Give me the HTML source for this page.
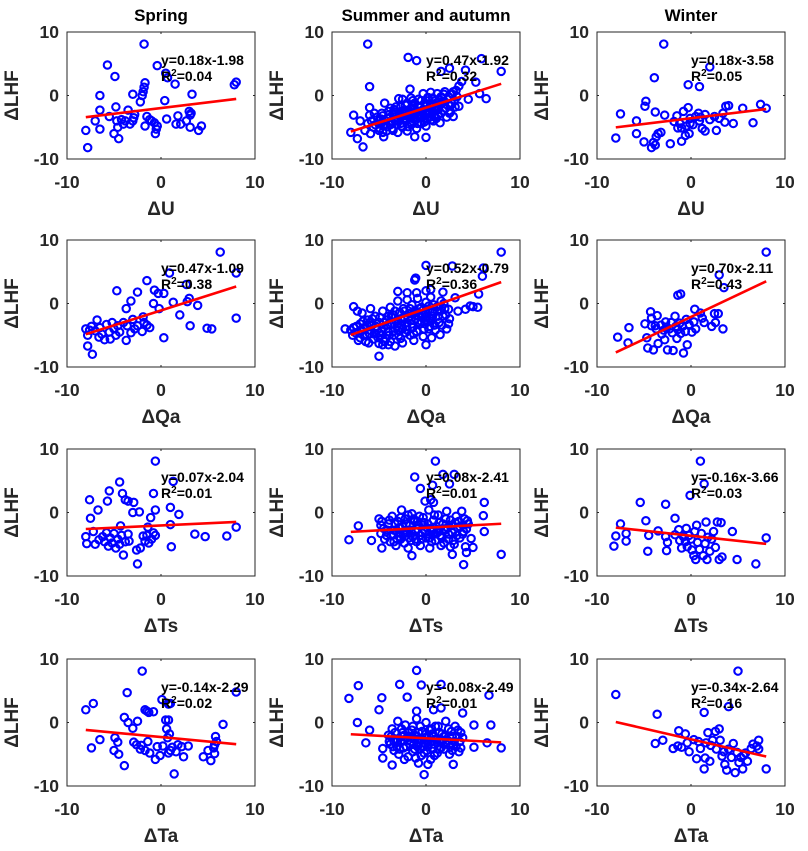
<!DOCTYPE html>
<html><head><meta charset="utf-8"><style>
html,body{margin:0;padding:0;background:#fff;}
svg{display:block;font-family:"Liberation Sans",Arial,sans-serif;}
</style></head><body>
<svg id="fig" width="808" height="851" viewBox="0 0 808 851"></svg>
<script>
// ---- data ----
const seasons=["Spring","Summer and autumn","Winter"];
const variables=["U","Qa","Ts","Ta"];
const slopes=[[0.18,0.47,0.18],[0.47,0.52,0.70],[0.07,0.08,-0.16],[-0.14,-0.08,-0.34]];
const intercepts=[[-1.98,-1.92,-3.58],[-1.09,-0.79,-2.11],[-2.04,-2.41,-3.66],[-2.29,-2.49,-2.64]];
const r2Labels=[["0.04","0.32","0.05"],["0.38","0.36","0.43"],["0.01","0.01","0.03"],["0.02","0.01","0.16"]];
const yTicks=[-10,0,10];
const xTicks=[-10,0,10];

const springU=[[-8,-5.5],[-7.8,-8.2],[-7,-4],[-6.5,0],[-6.5,-2.3],[-6.5,-5.3],[-5.7,4.8],[-5.5,-3.3],[-5,-6],[-4.9,3],[-4.8,-1.8],[-4.7,-4],[-4.6,-5],[-4.5,-6.8],[-4.2,-3.8],[-4,-4.5],[-3.8,-4],[-3.5,-2.3],[-3.3,-4.5],[-3,0.2],[-2.9,-3.5],[-2.8,-3],[-3,-4],[-2.2,-1],[-2,0],[-1.9,0.6],[-1.8,1.3],[-1.7,2],[-1.8,8.1],[-1.7,-4.8],[-1.5,-3.3],[-1.2,-3.8],[-1,-4],[-0.7,-4.3],[-0.6,-6],[-0.5,-5.3],[-0.4,-4.8],[-0.4,4.7],[0.4,-0.8],[0.5,3.5],[0.7,2.8],[0.6,-3.7],[1.5,1.8],[1.6,-4.5],[1.8,-3.2],[2.1,-4.5],[2.7,-4],[3,-2.5],[3.1,-3.1],[3.1,-5],[3.3,0.2],[3.2,-2.8],[4,-5.5],[4.3,-4.8],[7.8,1.7],[8,2.1]];
const summerU=[[-6.2,8.1],[-1.9,6],[-1,5.5],[5.9,5.8],[4.2,4],[8,3.8],[1.6,3.8],[2.5,4.3],[3.8,2.2],[3.5,1.5],[5.3,2.1],[-6,1.4],[5.7,0.3],[6.4,-0.5],[-8,-5.8],[-7.7,-3.1],[-7,-4],[-7.3,-6.8],[-6.7,-8.1],[-6,-1.9],[-6,-3.1],[-5,-4.5],[-4.5,-6.5],[-1.2,-6.5],[0,-6.6],[2.9,-3.3],[2.6,-2.6],[1.5,-4.3],[4.5,-0.6],[3.5,-1.7],
[-5,-4],[-5,-5.5],[-4.6,-3.2],[-4.5,-4.8],[-4.2,-5.6],[-4,-3.5],[-4,-2.5],[-3.8,-4.6],[-3.6,-5.2],[-3.5,-3],[-3.3,-4],[-3.2,-1.8],[-3,-5.8],[-3,-3.5],[-2.8,-2.6],[-2.7,-4.4],[-2.5,-0.6],[-2.5,-5],[-2.4,-3.2],[-2.2,-1.5],[-2.1,-4],[-2,-2.5],[-2,-5.6],[-1.8,-3.4],[-1.7,1],[-1.6,-0.4],[-1.5,-2],[-1.5,-4.5],[-1.3,-3],[-1.2,-1.2],[-1.1,-3.8],[-1,-2.4],[-1,-5.2],[-0.8,-0.6],[-0.7,-3.2],[-0.6,-1.8],[-0.5,-4.4],[-0.4,-2.6],[-0.3,0.3],[-0.2,-3.6],[-0.1,-1.2],[0,-2.8],[0,-4.8],[0.2,-0.3],[0.3,-2],[0.4,-3.4],[0.5,0.5],[0.6,-1.4],[0.7,-2.6],[0.8,-4],[1,-0.8],[1,-2],[1.2,0.3],[1.3,-3],[1.5,-1.4],[1.6,-0.2],[1.8,-2.4],[2,0.6],[2,-1],[2.2,-3.4],[2.4,-0.2],[2.6,-1.6],[2.8,0.2],[3,-0.8],[3.2,0.8],[-3.8,-2],[-4.4,-1.2],[-2.9,-0.5],[-5.5,-2.8],[-5.6,-5],[-5.8,-4],[-4.8,-3.7],[-3.4,-2.2],[-2.3,-3.9],[-1.9,-4.9],[-0.9,-3.5],[0.1,-1.6],[0.9,-3.2],[1.1,-1.2],[-1.4,-0.8],
[-5.4,-4.6],[-5.2,-3.4],[-4.9,-5.2],[-4.7,-2.8],[-4.3,-4],[-4.1,-4.9],[-3.9,-3],[-3.7,-4.2],[-3.5,-5.5],[-3.3,-2.6],[-3.1,-4.6],[-2.9,-3.2],[-2.7,-1.8],[-2.6,-4.8],[-2.4,-2.4],[-2.2,-3.6],[-2,-1.2],[-1.9,-3],[-1.7,-4.2],[-1.6,-2],[-1.4,-3.6],[-1.3,-1.6],[-1.1,-2.8],[-0.9,-4.4],[-0.8,-1.8],[-0.6,-3],[-0.5,-0.8],[-0.3,-2.2],[-0.2,-4.2],[0,-1.4],[0.1,-3],[0.3,-0.8],[0.4,-2.6],[0.6,-3.8],[0.7,-0.4],[0.9,-2.2],[1.1,-3.6],[1.2,-1.6],[1.4,-0.6],[1.6,-2.8],[1.7,-1],[1.9,0.2],[2.1,-2],[2.3,-0.6],[2.5,-2.8],[2.7,-1.2],[2.9,0.6],[3.1,-1.8],[3.3,-0.2],[-4.6,-5.8],[-3.2,-3.8],[-2.3,-2.9],[-1.2,-2.2],[-0.4,-3.4],[0.5,-1.6],[1.3,-2.2],[-6.5,-5.5],[-6.2,-4.4],[-5.9,-6]];
const winterU=[[-2.9,8.1],[2,4.5],[-3.9,2.8],[-0.3,1.7],[0.9,1.4],[-8,-6.7],[-7.5,-2.9],[-5.8,-4],[-5.8,-6],[-5,-7.3],[-4.8,-0.9],[-4.9,-1.7],[-3.8,-2.6],[-4,-7.4],[-4.2,-8.2],[-3.7,-6.5],[-3.5,-6],[-3.8,-7.8],[-2.8,-3.1],[-3.2,-5.8],[-2.2,-7.6],[-1.8,-4.1],[-1.5,-3.2],[-1.4,-5.1],[-1,-5.1],[-1,-7.2],[-0.8,-2.5],[-0.6,-6.3],[-0.5,-4.8],[-0.3,-1.9],[-0.2,-6],[-0.1,-3.6],[0.2,-4.6],[0.5,-3.3],[0.8,-2.8],[1,-3.4],[1.2,-5.2],[1.5,-3],[1.5,-5.6],[2,-3.8],[2.5,-3.3],[2.7,-5.5],[3,-3.6],[3.4,-2.8],[3.6,-4.2],[3.7,-1.7],[4,-1.6],[4.5,-4.4],[5.5,-2],[6.6,-4.3],[7.4,-1.4],[8,-2],[-0.1,-4.4],[0.9,-4],[-1.2,-4.4]];
const springQa=[[6.3,8.1],[8,4.8],[0.9,4.8],[-1.5,3.6],[-4.7,2],[-2.5,1.8],[-0.7,2.1],[-0.3,1.6],[0.3,1.6],[-3.2,0.4],[2.7,3],[1.3,0.2],[2.8,0.3],[3,0.8],[-0.8,0],[-0.2,-0.8],[-3.7,-0.8],[3.9,-0.3],[2,-1.8],[8,-2.3],[3.1,-3.5],[4.9,-3.9],[5.4,-4],[0.3,-5.4],[-3.7,-5.8],[-7.3,-8],[-7.8,-6.7],[-8,-4],[-7.6,-4.2],[-7.8,-5],[-7,-4.3],[-6.8,-2.6],[-6.5,-3.8],[-6.3,-4.8],[-6,-5.7],[-5.8,-3.3],[-5.5,-4.5],[-5.2,-3],[-5,-4],[-4.8,-5],[-4.6,-3.5],[-4.4,-4.5],[-4,-3],[-3.6,-3.5],[-3.2,-4.6],[-3,-2.5],[-2.8,-4],[-2.5,-3.5],[-2,-4.4],[-1.9,-2.1],[-1.8,-3],[-1.5,-3.4],[-1.2,-3.8],[-7.4,-3.6],[-6.6,-5.3],[-5.4,-5.6]];
const summerQa=[[8,8.1],[0,6],[2.8,5.9],[-1.1,4],[-1.2,3.7],[0.5,2.2],[-3,1.9],[-2,1.7],[-1,1.7],[0,2],[1.8,1.8],[3.1,0.9],[5.6,1.5],[6,4.3],[6.1,5.6],[4.7,-0.4],[4.2,-0.9],[5,-0.5],[5.5,-0.6],[2.4,-0.9],[3.4,-1.2],[2.5,-2.4],[2.4,-3.2],[0.4,-2.3],[0.3,-4],[0,-6.5],[-5,-8.3],[-4.6,-6.5],[-8.6,-4],[-7.7,-0.5],[-7.3,-1.2],[-7.7,-3.8],[-8,-4.2],
[-7.5,-4.6],[-7,-3.2],[-7,-5.4],[-6.6,-4],[-6.4,-6],[-6.2,-2.6],[-6,-4.8],[-5.8,-3.5],[-5.6,-5.6],[-5.4,-2],[-5.2,-4.2],[-5,-6.3],[-5,-3],[-4.8,-5],[-4.6,-1.2],[-4.5,-3.8],[-4.3,-5.5],[-4.2,-2.6],[-4,-4.4],[-3.8,-0.6],[-3.8,-6],[-3.6,-3.2],[-3.5,-1.8],[-3.4,-5],[-3.2,-2.8],[-3,0.4],[-3,-4.2],[-2.8,-1.4],[-2.7,-5.5],[-2.6,-3.4],[-2.4,-0.8],[-2.3,-2.2],[-2.2,-4.6],[-2,-3],[-2,0.6],[-1.8,-1.6],[-1.7,-5],[-1.6,-2.6],[-1.5,-0.2],[-1.4,-3.8],[-1.2,-1.2],[-1.1,-2.4],[-1,-4.4],[-0.9,0.8],[-0.8,-2],[-0.6,-3.2],[-0.5,-0.6],[-0.4,-1.6],[-0.2,-4],[0,0.2],[0,-2.6],[0.2,-1],[0.4,-3.6],[0.5,1],[0.7,-2],[0.8,-0.2],[1,-4.2],[1.2,-1.2],[1.4,-3],[1.6,0.4],[1.8,-2],[2,-0.8],[2.2,-4],[-6.8,-1.5],[-5.9,-0.8],[-4,-6.5],[-3.3,-6.7],[-2.5,-6.2],[-1.3,-5.8],[0.6,-5.4],[1.5,-4.9],[-0.3,-5.2],
[-7.8,-5],[-7.4,-3.6],[-7.2,-5.8],[-6.9,-4.4],[-6.7,-2.8],[-6.5,-5],[-6.3,-3.4],[-6.1,-6.2],[-5.9,-4.2],[-5.7,-2.4],[-5.5,-4.8],[-5.3,-3.6],[-5.1,-5.4],[-4.9,-2.2],[-4.7,-4.4],[-4.5,-3],[-4.4,-6],[-4.1,-3.4],[-3.9,-5],[-3.7,-2],[-3.5,-4.4],[-3.3,-1.2],[-3.1,-3.6],[-2.9,-5],[-2.7,-2.4],[-2.5,-4],[-2.3,-1.2],[-2.1,-3.6],[-1.9,-2.2],[-1.7,-0.8],[-1.5,-3.2],[-1.3,-4.8],[-1.1,-1.8],[-0.9,-3],[-0.7,-0.8],[-0.5,-2.8],[-0.3,-1],[-0.1,-3.2],[0.1,-2],[0.3,-0.4],[0.5,-2.8],[0.7,-1.2],[0.9,-3.4],[1.1,-0.6],[1.3,-2],[1.5,-1.2],[1.7,-3.4],[1.9,0],[2.1,-1.8],[-6,-3],[-5,-4.6],[-4,-2],[-3,-3.2],[-2,-4.2],[-1,-1.4],[0,-1.6]];
const winterQa=[[8,8.1],[3,4.5],[3.5,2.5],[-1.4,1.3],[-1.1,1.5],[-7.8,-5.3],[-6.6,-3.8],[-6.7,-6.2],[-4.9,-3.2],[-4.7,-5.4],[-4.3,-1.3],[-4.2,-2.3],[-4.6,-7],[-4,-7.3],[-4.2,-3.5],[-3.6,-1.9],[-3.7,-4],[-3.5,-6.3],[-3.2,-3.4],[-3.1,-4.8],[-2.8,-5.7],[-2.6,-3.7],[-2.5,-7.3],[-2.3,-4],[-2.1,-3],[-2,-4.6],[-1.9,-7.4],[-1.7,-2],[-1.6,-3.6],[-1.5,-5.5],[-1.2,-3.1],[-1.1,-4.7],[-0.8,-7.8],[-0.6,-4.4],[-0.4,-6.5],[-0.2,-3.3],[0.3,-2.9],[0.4,-0.9],[0.5,-4],[1,-1.5],[1.2,-2.3],[1.4,-3],[2.5,-1.6],[2.9,-1.6],[2.6,-3],[3.4,-4],[2.2,-3.6],[-3.8,-3.5],[-2.9,-4.2],[-2.7,-2.9],[-1.4,-4.1],[-0.9,-3.6],[-0.5,-2.5],[0.1,-4.5]];
const springTs=[[-0.6,8.1],[1.3,4.9],[-4.4,4.8],[-5.5,3.4],[-4.1,3],[-0.8,3],[-3.8,2],[-3.5,1.8],[-7.6,2],[-5.7,1.8],[-2.9,1.6],[-6.7,0.4],[-2.3,0.1],[-3,0],[-0.6,0.4],[1,0.8],[1.9,-0.3],[-7.5,-0.9],[-1.1,-0.8],[1,-1.9],[-4.3,-2.1],[-1.4,-2.3],[8,-2.3],[3.6,-3.4],[4.7,-3.8],[7,-3.7],[-8,-3.8],[-7.9,-4.9],[-7.2,-3],[-7,-5],[-6.6,-4.3],[-6.2,-3.8],[-6,-4.6],[-5.8,-3.2],[-5.6,-5.3],[-5.4,-4],[-5.2,-4.8],[-5,-3.3],[-4.8,-5.6],[-4.6,-4.2],[-4.4,-5],[-4.2,-3.6],[-4,-6.7],[-3.8,-4.6],[-3.5,-3.4],[-3.4,-4.5],[-2.6,-5.9],[-2.5,-8.1],[-2.2,-5.6],[-1.9,-3.7],[-1.7,-4.5],[-1.3,-4.8],[-1,-4.2],[-0.8,-3.2],[-0.6,-3.6],[1.1,-5.4],[-1.5,-3.6]];
const summerTs=[[1,8.1],[-1.2,5.6],[1.8,6],[3,6],[0.7,4.3],[2.5,4.5],[-0.6,3.8],[0.5,2],[0.8,1.6],[-0.1,1.8],[6.2,1.6],[6.1,-0.5],[6.2,-3],[-8.2,-4.3],[-7.2,-2.1],[-5.8,-4.4],[-4.8,-3.3],[-4.7,-5.6],[-5,-1],[-4.7,-1.4],[-1.5,-6.8],[2.8,-6.6],[4,-8.2],[4.3,-6.3],[8,-6.6],[4.8,-4.1],[5,-5.5],[3.9,-2],[3.5,-1.4],[4.4,-1.3],
[-4.5,-2.5],[-4.2,-3.6],[-4,-1.8],[-3.8,-4.6],[-3.6,-0.6],[-3.4,-2.8],[-3.2,-5.2],[-3,-1.4],[-2.8,-3.8],[-2.6,0.4],[-2.5,-2.2],[-2.3,-4.8],[-2.2,-1],[-2,-3.2],[-1.9,-5.6],[-1.7,-2],[-1.5,-0.2],[-1.4,-3.8],[-1.2,-1.4],[-1,-4.6],[-0.9,-2.6],[-0.7,-0.6],[-0.6,-5.2],[-0.4,-3.2],[-0.2,-1.6],[0,-4],[0.1,-2.4],[0.3,0.4],[0.4,-5.6],[0.6,-3],[0.8,-1.2],[1,-4.4],[1.1,-2.2],[1.3,-0.4],[1.5,-3.6],[1.6,-5.2],[1.8,-1.8],[2,-2.8],[2.2,0.2],[2.4,-4.2],[2.6,-1.2],[2.8,-3.2],[3,-5],[3.2,-0.6],[3.4,-2.4],[3.6,-4],[3.8,0.2],[4,-3],[4.2,-5.4],[4.5,-1.8],[-3.5,-3.4],[-2.1,-2.8],[-1.1,-3],[-0.3,-2],[0.5,-2.6],[1.4,-2.8],[2.3,-2.4],[-1.6,-4.4],[0.9,-3.4],[-0.5,-4.2],[1.9,-4.8],[-2.7,-4.2],
[-4.8,-2],[-4.4,-4.2],[-4.1,-2.8],[-3.9,-1.2],[-3.7,-3.6],[-3.3,-1.8],[-3.1,-4.2],[-2.9,-2.4],[-2.7,-0.8],[-2.4,-3.4],[-2.1,-1.8],[-1.8,-4],[-1.6,-2.8],[-1.3,-1],[-1.1,-4.2],[-0.8,-2],[-0.6,-3.6],[-0.3,-0.8],[-0.1,-3],[0.2,-1.8],[0.4,-4],[0.7,-2.4],[0.9,-0.4],[1.2,-3.2],[1.4,-1.6],[1.7,-4],[1.9,-2.6],[2.1,-1],[2.4,-3.4],[2.7,-2],[2.9,-4.4],[3.1,-1.6],[3.3,-3.6],[3.6,-2.2],[3.9,-3.4],[4.1,-1],[4.3,-2.6],[-2.2,-3.2],[-0.9,-1.4],[0.6,-4.6],[1.6,-3.8],[2.6,-5.4],[-1.9,-0.4],[0.3,-3.4],[-3.4,-4.6]];
const winterTs=[[1,8.1],[1.4,4.5],[-0.1,2.7],[-5.4,1.6],[-2.7,1.3],[-4.8,-1.3],[-1.7,-0.9],[-7.5,-1.8],[-8,-3.7],[-8.2,-5.3],[-6.9,-3.3],[-6.9,-4.5],[-4.5,-3.6],[-4.6,-6.1],[-3.5,-2.9],[-2.7,-3.8],[-2.6,-6],[-2.5,-4.7],[-1.7,-3.5],[-1.3,-2.7],[-1.2,-4.4],[-1,-5.6],[-0.8,-3.8],[-0.6,-4.6],[-0.4,-5.4],[-0.2,-3.6],[0,-4.2],[0.1,-5.9],[0.3,-6.8],[0.4,-3],[0.5,-7.4],[0.6,-2],[0.9,-5.8],[1.1,-3.3],[1.3,-6.8],[1.5,-4.9],[1.6,-1.5],[1.7,-7.4],[2,-6.1],[2.2,-4.2],[2.4,-3],[2.6,-5.5],[2.8,-1.5],[3,-7.4],[3.2,-1.6],[3.3,-7],[4.4,-3],[4.9,-7.4],[6.9,-8.1],[8,-4],[-0.5,-2.5],[0.7,-4.7],[1.8,-3.9]];
const springTa=[[-2,8.1],[8,4.8],[-3.6,4.7],[0.1,3.6],[1,3],[0.8,2.9],[-7.2,3],[-8,2],[-1.7,2],[-1.5,1.8],[-0.8,1.7],[-1.3,1.6],[-3.9,0.8],[-3.5,0],[-2.5,0.2],[0.8,0.4],[0.5,0.4],[6.6,-0.3],[-3,-0.9],[0.6,-1],[0.9,-1.8],[0.7,-2.4],[-6.5,-2.7],[-4.9,-2.4],[-7.4,-4],[-5,-4.4],[-4.6,-3.1],[-4.5,-5],[-3.9,-6.8],[-2.9,-3.1],[-2.6,-3.5],[-2.1,-3.6],[-1.7,-4.4],[-1.4,-3],[-1.2,-4.8],[-0.6,-5.8],[-0.4,-3.8],[-0.1,-5.2],[0.2,-3.7],[0.8,-4.8],[1.2,-3.9],[1.4,-8.1],[1.6,-4.6],[1.8,-3.5],[2.2,-3.8],[2.4,-5.4],[2.9,-3.7],[4.5,-5.4],[5,-4.4],[5.3,-6],[5.7,-4.9],[5.7,-3.5],[5.8,-2.2],[5.9,-3],[5.6,-4],[-2.2,-4.2],[1,-4.4]];
const summerTa=[[-1,8.2],[-7.2,5.8],[-2.8,6],[-0.5,5.9],[1.6,6],[-8.2,3.8],[-4.7,3.9],[-2,4],[-5,2],[-1,1.8],[0.8,2],[1.6,2.3],[3.9,1.5],[6.7,4.3],[-7.3,0],[-6,-1.2],[5.1,-0.4],[6.9,-0.4],[-6.4,-3.2],[5.1,-3.9],[6.5,-3.2],[8,-4],[3.7,-4],[-4.6,-4.1],[-3.6,-6.7],[-0.8,-6.4],[-0.2,-8.2],[0.2,-6.6],[2.9,-6.6],[-4.6,-5.6],
[-4,-2],[-3.8,-3.4],[-3.6,-1],[-3.4,-4.4],[-3.2,-2.6],[-3,0.2],[-2.9,-5],[-2.7,-3],[-2.5,-1.6],[-2.4,-4],[-2.2,-0.4],[-2,-2.4],[-1.9,-5.4],[-1.7,-3.4],[-1.5,-1.2],[-1.4,-4.6],[-1.2,-2],[-1,0.6],[-0.9,-3.8],[-0.7,-2.6],[-0.5,-5.2],[-0.4,-1.4],[-0.2,-3.2],[0,0],[0.1,-4.4],[0.3,-2.2],[0.5,-5.8],[0.6,-1],[0.8,-3.4],[1,-2.6],[1.2,-4.8],[1.3,-0.6],[1.5,-3],[1.7,-1.8],[1.9,-4.2],[2.1,0.2],[2.3,-2.8],[2.5,-5],[2.7,-1.4],[2.9,-3.6],[3.1,-0.6],[3.3,-2.2],[3.5,-4.6],[3.7,-1.6],[-3.1,-3.8],[-1.8,-2.2],[-0.6,-4.2],[0.7,-3],[1.8,-2.8],[2.8,-4.4],[-2.3,-5.8],[-1.1,-5.6],[0.9,-5.2],[-0.1,-2.4],[-1.3,-3.4],[0.2,-3.8],[1.4,-4.2],[-2.6,-2.2],[3,-3],[-0.8,-1.6],
[-3.9,-3],[-3.7,-2.2],[-3.5,-3.8],[-3.3,-1.6],[-3,-2.8],[-2.8,-4.2],[-2.6,-1],[-2.4,-2.8],[-2.1,-3.8],[-1.9,-1.6],[-1.6,-3],[-1.4,-0.6],[-1.2,-4.2],[-1,-2.2],[-0.8,-3.2],[-0.6,-0.6],[-0.4,-2.8],[-0.2,-4.8],[0,-1.8],[0.2,-3],[0.4,-1.2],[0.6,-4],[0.8,-2.2],[1,-0.6],[1.2,-3.2],[1.4,-1.6],[1.6,-4],[1.9,-2.2],[2.1,-3.4],[2.4,-1],[2.6,-3.8],[2.8,-2.2],[3.2,-3.8],[3.4,-1.2],[3.6,-3],[-2.3,-2],[-1.3,-2.6],[-0.3,-3.8],[0.7,-1.8],[1.7,-3],[-3.4,-3],[3.9,-2.4]];
const winterTa=[[-8,4.4],[5,8.1],[4,2.5],[1.4,1.6],[-3.6,1.3],[-3.8,-3.3],[-3,-2.8],[-1.9,-4.1],[-1.4,-3.7],[-1.3,-1.3],[-0.6,-1.8],[-1,-3.9],[-0.2,-4.6],[0.3,-2.7],[0.6,-5.7],[1,-4.1],[1.4,-7.3],[1.5,-5.6],[1.6,-3.2],[1.8,-1.6],[2,-6.1],[2.1,-3.6],[2.3,-2.8],[2.6,-1.4],[2.7,-4.2],[3,-1],[3.1,-2.8],[3.3,-5.3],[3.6,-6.6],[3.8,-7.5],[4,-4.2],[4.3,-5.5],[4.5,-3.3],[4.7,-7.9],[4.9,-4.7],[5.1,-6.3],[5.3,-5.5],[5.5,-7.3],[5.8,-4.8],[6,-6.1],[6.4,-4.1],[6.6,-3.4],[7,-3.7],[7.2,-2.8],[7.2,-4.2],[8,-7.3],[0.8,-3],[-0.4,-3.2],[3.5,-4.6],[5.6,-5.2]];
const panelData=[[springU,summerU,winterU],[springQa,summerQa,winterQa],[springTs,summerTs,winterTs],[springTa,summerTa,winterTa]];

// ---- layout ----
const NS="http://www.w3.org/2000/svg";
const svg=document.getElementById('fig');
const colLeft=[67,332,597], rowTop=[32,240,449,659], PW=188, PH=127;
function mk(tag,attrs,parent){const e=document.createElementNS(NS,tag);for(const k in attrs)e.setAttribute(k,attrs[k]);(parent||svg).appendChild(e);return e;}
const axisColor="#262626";

for(let c=0;c<3;c++){
  const t=mk('text',{x:colLeft[c]+PW/2,y:21,'text-anchor':'middle','font-size':17,'font-weight':'bold',fill:'#000'});
  t.textContent=seasons[c];
  
  
}

for(let r=0;r<4;r++){
  for(let c=0;c<3;c++){
    const L=colLeft[c],T=rowTop[r];
    const sx=v=>L+(v+10)/20*PW;
    const sy=v=>T+PH-(v+10)/20*PH;
    const g=mk('g',{});
    
    
    const box=mk('rect',{x:L,y:T,width:PW,height:PH,fill:'#fff',stroke:axisColor,'stroke-width':1},g);
    
    
    xTicks.forEach(v=>{
      mk('line',{x1:sx(v),x2:sx(v),y1:T+PH,y2:T+PH-2,stroke:axisColor},g);
      mk('line',{x1:sx(v),x2:sx(v),y1:T,y2:T+2,stroke:axisColor},g);
      const tl=mk('text',{x:sx(v),y:T+PH+29,'text-anchor':'middle','font-size':17.5,'font-weight':'bold',fill:axisColor},g);
      tl.textContent=v;
      
      
    });
    yTicks.forEach(v=>{
      mk('line',{x1:L,x2:L+2,y1:sy(v),y2:sy(v),stroke:axisColor},g);
      mk('line',{x1:L+PW,x2:L+PW-2,y1:sy(v),y2:sy(v),stroke:axisColor},g);
      const tl=mk('text',{x:L-8,y:sy(v)+6,'text-anchor':'end','font-size':17.5,'font-weight':'bold',fill:axisColor},g);
      tl.textContent=v;
      
      
    });
    const xl=mk('text',{x:L+PW/2,y:T+PH+56,'text-anchor':'middle','font-size':19,'font-weight':'bold',fill:axisColor},g);
    xl.textContent='\u0394'+variables[r];
    
    
    const yx=L-49, yy=T+PH/2;
    const yl=mk('text',{x:yx,y:yy,'text-anchor':'middle','font-size':19,'font-weight':'bold',fill:axisColor,transform:`rotate(-90 ${yx} ${yy})`},g);
    yl.textContent='\u0394LHF';
    
    
    panelData[r][c].forEach(p=>{
      const ci=mk('circle',{cx:sx(p[0]),cy:sy(p[1]),r:3.7,fill:'none',stroke:'#0000ff','stroke-width':2.1},g);
      
      
    });
    const m=slopes[r][c],b=intercepts[r][c];
    const ln=mk('line',{x1:sx(-8),y1:sy(m*-8+b),x2:sx(8),y2:sy(m*8+b),stroke:'#ff0000','stroke-width':2.6},g);
    
    
    const sgn=b<0?'-':'+';
    const eq=mk('text',{x:sx(0),y:sy(4.8),'font-size':14,'font-weight':'bold',fill:'#000'},g);
    eq.textContent='y='+m.toFixed(2)+'x'+sgn+Math.abs(b).toFixed(2);
    
    
    const rt=mk('text',{x:sx(0),y:sy(2.3),'font-size':14,'font-weight':'bold',fill:'#000'},g);
    rt.innerHTML='R<tspan dy="-5" font-size="10">2</tspan><tspan dy="5">='+r2Labels[r][c]+'</tspan>';
    
    
  }
}
</script>
</body></html>
